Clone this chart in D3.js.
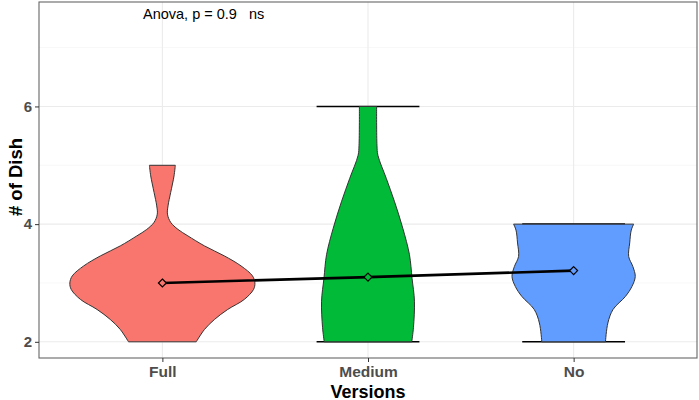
<!DOCTYPE html>
<html>
<head>
<meta charset="utf-8">
<script src="https://cdn.jsdelivr.net/npm/d3@7"></script>
<style>
  body { margin: 0; background: #fff; }
  svg text { font-family: "Liberation Sans", Arial, sans-serif; }
</style>
</head>
<body>
<div id="chart"></div>
<script>
// categories and colours
var versions = ["Full", "Medium", "No"];
var fills = ["#F8766D", "#00BA38", "#619CFF"];

// violin outlines: y value and relative density (1 = widest)
var fullY    = [2.0, 2.21, 2.38, 2.55, 2.72, 2.89, 3.0, 3.12, 3.29, 3.46, 3.63, 3.80, 3.91, 4.03, 4.17, 4.31, 4.54, 4.82, 5.0];
var fullDens = [0.366, 0.455, 0.563, 0.706, 0.885, 0.985, 1.0, 0.974, 0.85, 0.67, 0.455, 0.276, 0.169, 0.09, 0.055, 0.061, 0.09, 0.126, 0.14];
var medY     = [2.0, 2.24, 2.69, 3.08, 3.48, 3.93, 4.38, 4.78, 5.17, 5.34, 6.0];
var medDens  = [0.473, 0.491, 0.502, 0.476, 0.448, 0.376, 0.287, 0.197, 0.107, 0.097, 0.093];
var noY      = [2.0, 2.32, 2.55, 2.77, 2.94, 3.11, 3.28, 3.45, 3.68, 3.90, 4.0];
var noDens   = [0.344, 0.37, 0.426, 0.559, 0.63, 0.666, 0.64, 0.595, 0.606, 0.623, 0.649];

// group means
var means = [3.0, 3.1, 3.21];
// error bar caps (min / max) per group, null where not shown
var capLow  = [null, 2, 2];
var capHigh = [null, 6, 4];

var yTicks = [2, 4, 6];
var yMinor = [3, 5, 7];

var W = 699, H = 400;
var margin = {top: 2, right: 2, bottom: 42, left: 39};
var width = W - margin.left - margin.right,
    height = H - margin.top - margin.bottom;

var svg = d3.select("#chart").append("svg")
    .attr("width", W).attr("height", H);
var g = svg.append("g")
    .attr("transform", "translate(" + margin.left + "," + margin.top + ")");

// x: discrete positions 1..3 with 0.6 padding each side
var x = d3.scaleLinear().domain([0.4, 3.6]).range([0, width]);
var y = d3.scaleLinear().domain([1.725, 7.775]).range([height, 0]);
var dens = d3.scaleLinear().domain([0, 1]).range([0, 0.45]);

// grid
g.selectAll(".minor").data(yMinor).enter().append("line")
  .attr("x1", 0).attr("x2", width)
  .attr("y1", function(d){ return y(d); }).attr("y2", function(d){ return y(d); })
  .attr("stroke", "#F2F2F2").attr("stroke-width", 0.6);
g.selectAll(".major").data(yTicks).enter().append("line")
  .attr("x1", 0).attr("x2", width)
  .attr("y1", function(d){ return y(d); }).attr("y2", function(d){ return y(d); })
  .attr("stroke", "#EBEBEB").attr("stroke-width", 1.1);
g.selectAll(".vgrid").data(versions).enter().append("line")
  .attr("x1", function(d,i){ return x(i+1); }).attr("x2", function(d,i){ return x(i+1); })
  .attr("y1", 0).attr("y2", height)
  .attr("stroke", "#EBEBEB").attr("stroke-width", 1.1);

// error bar caps (behind violins)
versions.forEach(function(v, i){
  [capLow[i], capHigh[i]].forEach(function(c){
    if (c === null) return;
    g.append("line")
      .attr("x1", x(i+1-0.25)).attr("x2", x(i+1+0.25))
      .attr("y1", y(c)).attr("y2", y(c))
      .attr("stroke", "#000").attr("stroke-width", 1.6);
  });
});

// violins
var shapes = [[fullY, fullDens], [medY, medDens], [noY, noDens]];
shapes.forEach(function(s, i){
  var pts = s[0].map(function(v, k){ return {v: v, d: s[1][k]}; });
  var area = d3.area()
    .y(function(p){ return y(p.v); })
    .x0(function(p){ return x(i+1 - dens(p.d)); })
    .x1(function(p){ return x(i+1 + dens(p.d)); })
    .curve(d3.curveCatmullRom);
  g.append("path").datum(pts)
    .attr("d", area)
    .attr("fill", fills[i])
    .attr("stroke", "#333").attr("stroke-width", 1);
});

// mean line
var line = d3.line()
  .x(function(d,i){ return x(i+1); })
  .y(function(d){ return y(d); });
g.append("path").datum(means)
  .attr("d", line)
  .attr("fill", "none").attr("stroke", "#000").attr("stroke-width", 2.6);

g.selectAll(".mean").data(means).enter().append("path")
  .attr("d", d3.symbol().type(d3.symbolDiamond2).size(40))
  .attr("transform", function(d,i){ return "translate(" + x(i+1) + "," + y(d) + ")"; })
  .attr("fill", function(d,i){ return fills[i]; })
  .attr("stroke", "#000").attr("stroke-width", 1.2);

// annotation
g.append("text")
  .attr("x", 104).attr("y", 16.5)
  .attr("font-size", "14.5px").attr("fill", "#000")
  .attr("xml:space", "preserve")
  .text("Anova, p = 0.9   ns");

// panel border
g.append("rect")
  .attr("width", width).attr("height", height)
  .attr("fill", "none").attr("stroke", "#666").attr("stroke-width", 1.1);

// axes
var yAxis = g.append("g")
  .call(d3.axisLeft(y).tickValues(yTicks).tickFormat(d3.format("d")).tickSize(4).tickPadding(3));
yAxis.select(".domain").remove();
yAxis.selectAll("line").attr("stroke", "#333");
yAxis.selectAll("text").attr("font-size", "15px").attr("font-weight", "bold")
  .attr("fill", "#4D4D4D").attr("font-family", "Liberation Sans, Arial, sans-serif");

var xAxis = g.append("g")
  .attr("transform", "translate(0," + height + ")")
  .call(d3.axisBottom(x).tickValues([1, 2, 3])
    .tickFormat(function(d){ return versions[d-1]; }).tickSize(4).tickPadding(4));
xAxis.select(".domain").remove();
xAxis.selectAll("line").attr("stroke", "#333");
xAxis.selectAll("text").attr("font-size", "15.5px").attr("font-weight", "bold")
  .attr("fill", "#4D4D4D").attr("font-family", "Liberation Sans, Arial, sans-serif");

// axis titles
svg.append("text")
  .attr("x", margin.left + width/2).attr("y", 397.5)
  .attr("text-anchor", "middle")
  .attr("font-size", "18px").attr("font-weight", "bold")
  .text("Versions");
svg.append("text")
  .attr("transform", "translate(21.5," + (margin.top + height/2 - 3) + ") rotate(-90)")
  .attr("text-anchor", "middle")
  .attr("font-size", "18.5px").attr("font-weight", "bold")
  .text("# of Dish");
</script>
</body>
</html>
